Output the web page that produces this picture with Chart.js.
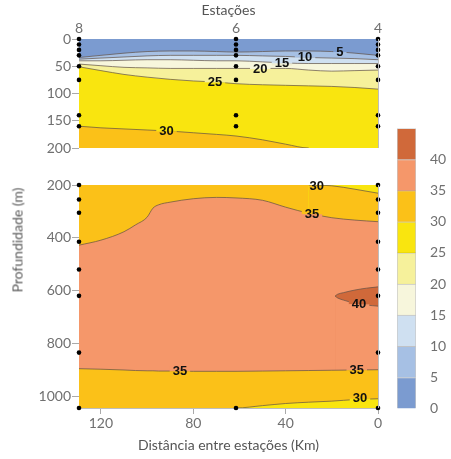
<!DOCTYPE html>
<html>
<head>
<meta charset="utf-8">
<script src="https://cdn.jsdelivr.net/npm/chart.js@4.4.1/dist/chart.umd.min.js"></script>
<style>
body { margin: 0; background: #fff; width: 451px; height: 459px; overflow: hidden; position: relative; font-family: Lato, sans-serif; }
canvas { position: absolute; }
#ytitle { position: absolute; left: 17px; top: 240px; transform: translate(-50%, -50%) rotate(-90deg); white-space: nowrap; font-size: 14px; font-weight: 400; color: #5a5a5a; }
</style>
</head>
<body>
<canvas id="chartTop" width="390" height="160" style="left:0;top:0"></canvas>
<canvas id="chartBottom" width="390" height="289" style="left:0;top:170px"></canvas>
<canvas id="chartBar" width="71" height="325" style="left:380px;top:106px"></canvas>
<div id="ytitle">Profundidade (m)</div>
<script>
// estacoes (km)
const stationDist = [129.5, 61.5, 0];
const stationLabels = ['8', '6', '4'];

// painel de cima (0-200 m)
const distTop = [0, 10, 20, 30, 40, 50, 61.5, 70, 80, 90, 100, 110, 120, 129.5];
const c5  = [30, 26, 23, 22, 22, 23, 24, 23, 22, 22, 23, 26, 30, 34];
const c10 = [38, 36, 35, 34, 32, 31, 30, 30, 30, 30, 31, 33, 35, 37];
const c15 = [45, 45, 45, 45, 44, 42, 40, 40, 39, 38, 38, 39, 40, 40];
const c20 = [57, 58, 59, 57, 54, 54, 54, 54, 54, 54, 53, 52, 49, 46];
const c25 = [92, 89, 87, 86, 85, 84, 82, 79, 77, 74, 70, 65, 58, 51];
const c30 = [200, 200, 200, 200, 193, 185, 178, 175, 172, 169, 167, 165, 163, 160];
const sampleTop = [0, 10, 20, 30, 50, 75, 140, 160];

// painel de baixo (200-1045 m)
const distBot = [0, 10, 20, 30, 40, 50, 61.5, 70, 80, 90, 95, 97.5, 100, 105, 110, 120, 129.5];
const c30a = [231, 216, 203, 200, 200, 200, 200, 200, 200, 200, 200, 200, 200, 200, 200, 200, 200];
const c35a = [339, 333, 324, 307, 284, 258, 249, 247, 252, 265, 275, 288, 322, 351, 377, 409, 428];
const c35b = [900, 901, 902, 903, 904, 905, 906, 906, 906, 905, 905, 904, 904, 903, 901, 898, 896];
const c30b = [1010, 1013, 1019, 1023, 1028, 1036, 1045, 1045, 1045, 1045, 1045, 1045, 1045, 1045, 1045, 1045, 1045];
const blobDist  = [0, 5, 10, 15, 17.5, 18.6];
const blobUpper = [586, 591, 598, 608, 614, 621];
const blobLower = [659, 655, 648, 636, 628, 621];
const sampleBot = [200, 255, 305, 415, 520, 620, 835, 1045];

const labelsTop = [
  {t: '5', x: 16.5, y: 24}, {t: '10', x: 31.6, y: 34}, {t: '15', x: 41.6, y: 45},
  {t: '20', x: 51, y: 55}, {t: '25', x: 70.6, y: 80}, {t: '30', x: 91.6, y: 170}
];
const labelsBot = [
  {t: '30', x: 26.5, y: 206}, {t: '35', x: 28.6, y: 311}, {t: '40', x: 8.2, y: 652},
  {t: '35', x: 85.8, y: 906}, {t: '35', x: 9.2, y: 902}, {t: '30', x: 7.8, y: 1010}
];

// escala de cores
const binValues = [5, 5, 5, 5, 5, 5, 5, 5, 5];
const binColors = ['#7b9bd0', '#a6c0e4', '#cfe0f1', '#f7f6dc', '#f6f19b', '#f9e50f', '#fbc118', '#f5976a', '#d0693a'];
const barTicks = [0, 5, 10, 15, 20, 25, 30, 35, 40];
const xTicks = [120, 80, 40, 0];
const yTicksTop = [0, 50, 100, 150, 200];
const yTicksBot = [200, 400, 600, 800, 1000];

Chart.defaults.font.family = 'Lato';
Chart.defaults.animation = false;

function pixel(ctx, x, y) {
  const d = ctx.getImageData(Math.round(x), Math.round(y), 1, 1).data;
  return 'rgb(' + d[0] + ',' + d[1] + ',' + d[2] + ')';
}

const areaBg = {
  id: 'areaBg',
  beforeDatasetsDraw(chart, args, opts) {
    const a = chart.chartArea, ctx = chart.ctx;
    ctx.save();
    ctx.fillStyle = opts.color;
    ctx.fillRect(a.left, a.top, a.right - a.left, a.bottom - a.top);
    ctx.restore();
  },
  afterDatasetsDraw(chart, args, opts) {
    const a = chart.chartArea, ctx = chart.ctx;
    ctx.save();
    ctx.strokeStyle = '#bdbdbd';
    ctx.lineWidth = 1;
    ctx.beginPath();
    ctx.moveTo(a.right + 0.5, a.top);
    ctx.lineTo(a.right + 0.5, a.bottom);
    ctx.stroke();
    ctx.font = 'bold 13px "Liberation Sans"';
    ctx.textAlign = 'center';
    ctx.textBaseline = 'middle';
    const g = opts.gap;
    opts.items.forEach(l => {
      const px = chart.scales.x.getPixelForValue(l.x), py = chart.scales.y.getPixelForValue(l.y);
      const w = ctx.measureText(l.t).width + 6;
      // break the contour line under the label
      if (py - g - 1 > a.top && py + g + 1 < a.bottom) {
        const up = pixel(ctx, px, py - g - 1), down = pixel(ctx, px, py + g + 1);
        ctx.fillStyle = up;
        ctx.fillRect(px - w / 2, py - g, w, g);
        ctx.fillStyle = down;
        ctx.fillRect(px - w / 2, py, w, g);
      }
      ctx.fillStyle = '#111';
      ctx.fillText(l.t, px, py);
    });
    ctx.restore();
  }
};

function contour(dist, depth, color, min, max, i) {
  return {
    data: dist.map((d, k) => ({x: d, y: depth[k]})),
    borderColor: 'rgba(95,80,70,0.7)',
    borderWidth: 1,
    pointRadius: 0,
    backgroundColor: color,
    fill: {value: max},
    cubicInterpolationMode: 'monotone',
    order: 50 - i,
    segment: {
      borderColor: s => {
        const a = s.p0.parsed.y, b = s.p1.parsed.y;
        if ((a <= min && b <= min) || (a >= max && b >= max)) return 'rgba(0,0,0,0)';
        return undefined;
      }
    }
  };
}

function dots(points) {
  return {
    data: points, showLine: false, pointRadius: 2.3, pointBorderWidth: 0,
    pointBackgroundColor: '#000', backgroundColor: '#000', fill: false, clip: false, order: 0
  };
}

const tickFont = {size: 14, family: 'Lato'};
const tickColor = '#707070';
const plain = v => String(v);

// painel de cima
const topLayers = [[c5, binColors[1]], [c10, binColors[2]], [c15, binColors[3]], [c20, binColors[4]], [c25, binColors[5]], [c30, binColors[6]]];
const topSets = topLayers.map((l, i) => contour(distTop, l[0], l[1], 0, 200, i));
const topDots = [];
stationDist.forEach(d => sampleTop.forEach(z => topDots.push({x: d, y: z})));
topSets.push(dots(topDots));

new Chart(document.getElementById('chartTop'), {
  type: 'line',
  data: {datasets: topSets},
  plugins: [areaBg],
  options: {
    responsive: false,
    layout: {padding: {left: 0, right: 12, top: 0, bottom: 12}},
    plugins: {legend: {display: false}, tooltip: {enabled: false}, areaBg: {color: binColors[0], items: labelsTop, gap: 2}},
    scales: {
      x: {
        type: 'linear', position: 'top', min: 0, max: 129.5, reverse: true,
        afterBuildTicks: s => { s.ticks = stationDist.map(v => ({value: v})); },
        ticks: {callback: (v, i) => stationLabels[i], color: tickColor, font: tickFont, padding: 2, maxRotation: 0, autoSkip: false},
        grid: {display: false, drawTicks: false}, border: {display: false},
        title: {display: true, text: 'Estações', color: '#555', font: tickFont, padding: {top: 2, bottom: 0}},
        afterFit: s => { s.height = 39; }
      },
      y: {
        type: 'linear', min: 0, max: 200, reverse: true,
        afterBuildTicks: s => { s.ticks = yTicksTop.map(v => ({value: v})); },
        ticks: {callback: plain, color: tickColor, font: tickFont, padding: 1},
        grid: {drawOnChartArea: false, tickLength: 7, color: '#aaa'}, border: {display: false},
        afterFit: s => { s.width = 79; }
      }
    }
  }
});

// painel de baixo
const botSets = [
  contour(distBot, c30a, binColors[6], 200, 1045, 0),
  contour(distBot, c35a, binColors[7], 200, 1045, 1),
  contour(blobDist, blobUpper, binColors[8], 200, 1045, 2),
  contour(blobDist, blobLower, binColors[7], 200, 1045, 3),
  contour(distBot, c35b, binColors[6], 200, 1045, 4),
  contour(distBot, c30b, binColors[5], 200, 1045, 5)
];
const botDots = [];
[stationDist[0], stationDist[2]].forEach(d => sampleBot.forEach(z => botDots.push({x: d, y: z})));
botDots.push({x: stationDist[1], y: 1045});
botSets.push(dots(botDots));

new Chart(document.getElementById('chartBottom'), {
  type: 'line',
  data: {datasets: botSets},
  plugins: [areaBg],
  options: {
    responsive: false,
    layout: {padding: {left: 0, right: 12, top: 15, bottom: 0}},
    plugins: {legend: {display: false}, tooltip: {enabled: false}, areaBg: {color: binColors[5], items: labelsBot, gap: 5}},
    scales: {
      x: {
        type: 'linear', min: 0, max: 129.5, reverse: true,
        afterBuildTicks: s => { s.ticks = xTicks.map(v => ({value: v})); },
        ticks: {callback: plain, color: tickColor, font: tickFont, padding: 1, maxRotation: 0},
        grid: {drawOnChartArea: false, tickLength: 6, color: '#aaa'}, border: {display: true, color: '#bdbdbd'},
        title: {display: true, text: 'Distância entre estações (Km)', color: '#555', font: tickFont, padding: {top: 4, bottom: 5}},
        afterFit: s => { s.height = 51; }
      },
      y: {
        type: 'linear', min: 200, max: 1045, reverse: true,
        afterBuildTicks: s => { s.ticks = yTicksBot.map(v => ({value: v})); },
        ticks: {callback: plain, color: tickColor, font: tickFont, padding: 1},
        grid: {drawOnChartArea: false, tickLength: 7, color: '#aaa'}, border: {display: false},
        afterFit: s => { s.width = 79; }
      }
    }
  }
});

// barra de cores
new Chart(document.getElementById('chartBar'), {
  type: 'bar',
  data: {
    labels: [''],
    datasets: binValues.map((v, i) => ({
      data: [v], backgroundColor: binColors[i], borderColor: 'rgba(0,0,0,0.22)', borderWidth: 1,
      barPercentage: 1, categoryPercentage: 1
    }))
  },
  options: {
    responsive: false,
    layout: {padding: {left: 17, right: 0, top: 0, bottom: 0}},
    plugins: {legend: {display: false}, tooltip: {enabled: false}},
    scales: {
      x: {display: false, stacked: true},
      y: {
        stacked: true, position: 'right', min: 0, max: 45,
        afterBuildTicks: s => { s.ticks = barTicks.map(v => ({value: v})); },
        ticks: {callback: plain, color: tickColor, font: tickFont, padding: 14},
        grid: {display: false, drawTicks: false}, border: {display: false},
        afterFit: s => { s.width = 35; }
      }
    }
  }
});
</script>
</body>
</html>
